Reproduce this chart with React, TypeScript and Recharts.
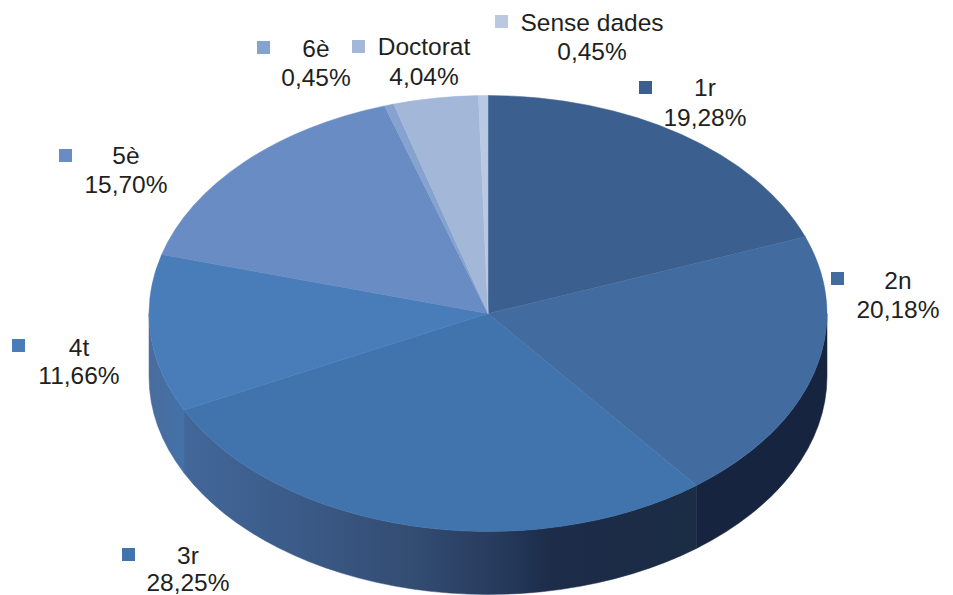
import { PieChart, Pie, Cell } from 'recharts'

const categories = ['1r', '2n', '3r', '4t', '5è', '6è', 'Doctorat', 'Sense dades']
const shares = [19.28, 20.18, 28.25, 11.66, 15.7, 0.45, 4.04, 0.45]

const sliceColors = ['#3b5f8e', '#426c9f', '#4173ad', '#497dba', '#688cc3', '#86a3cf', '#a3b7d9', '#bac9e2']
const wallFills = ['#16243f', '#16243f', 'url(#wall3r)', 'url(#wall4t)', '#16243f', '#16243f', '#16243f', '#16243f']

// label placement: marker left/top, text centre, first and second baseline
const labelSpots = [
  [639, 81, 705, 96, 126],
  [831, 272, 898, 289, 318],
  [122, 548, 188, 564, 591],
  [12, 339, 79, 356, 384],
  [59, 149, 126, 164, 193],
  [257, 41, 316, 57, 86],
  [352, 40, 424, 55, 85],
  [495, 15, 592, 31, 60],
]

const data = categories.map((name, i) => ({ name, value: shares[i] }))

const FLATTEN = 218 / 339
const DEPTH = 63
const RAD = Math.PI / 180

const pointAt = (cx: number, cy: number, r: number, a: number) => ({
  x: cx + r * Math.cos(a * RAD),
  y: cy - r * FLATTEN * Math.sin(a * RAD),
})

// top face: the pie sector squashed into an ellipse
function TopSlice(props: any) {
  const { cx, cy, outerRadius: r, startAngle, endAngle, fill } = props
  const a = pointAt(cx, cy, r, startAngle)
  const b = pointAt(cx, cy, r, endAngle)
  const large = Math.abs(startAngle - endAngle) > 180 ? 1 : 0
  const d = `M${cx},${cy}L${a.x},${a.y}A${r},${r * FLATTEN} 0 ${large} 1 ${b.x},${b.y}Z`
  return <path d={d} fill={fill} stroke={fill} strokeWidth={0.5} />
}

// side wall: only the part of the rim facing the viewer
function WallSlice(props: any) {
  const { cx, cy, outerRadius: r, startAngle, endAngle, fill } = props
  const hi = Math.min(startAngle, 0)
  const lo = Math.max(endAngle, -180)
  if (hi <= lo) return <g />
  const a = pointAt(cx, cy, r, hi)
  const b = pointAt(cx, cy, r, lo)
  const ry = r * FLATTEN
  const d = `M${a.x},${a.y}A${r},${ry} 0 0 1 ${b.x},${b.y}L${b.x},${b.y + DEPTH}A${r},${ry} 0 0 0 ${a.x},${a.y + DEPTH}Z`
  return <path d={d} fill={fill} stroke={fill} strokeWidth={0.5} />
}

function SliceLabel(props: any) {
  const { index } = props
  const [mx, my, tx, y1, y2] = labelSpots[index]
  const text = { fontFamily: '"Liberation Sans", Arial, sans-serif', fontSize: 24.5, fill: '#231f20', textAnchor: 'middle' } as const
  return (
    <g>
      <rect x={mx} y={my} width={13} height={13} fill={sliceColors[index]} />
      <text x={tx} y={y1} {...text}>{categories[index]}</text>
      <text x={tx} y={y2} {...text}>{shares[index].toFixed(2).replace('.', ',')}%</text>
    </g>
  )
}

export default function App() {
  return (
    <div style={{ position: 'absolute', left: 0, top: 0, width: 953, height: 595, background: '#fff' }}>
      <PieChart width={953} height={595} margin={{ top: 0, right: 0, bottom: 0, left: 0 }}>
        <defs>
          <linearGradient id="wall3r" gradientUnits="userSpaceOnUse" x1={184} y1={0} x2={696} y2={0}>
            <stop offset="0%" stopColor="#43679a" />
            <stop offset="15%" stopColor="#3d5f8e" />
            <stop offset="45%" stopColor="#334c72" />
            <stop offset="62%" stopColor="#263a5c" />
            <stop offset="72%" stopColor="#1c2c49" />
            <stop offset="100%" stopColor="#1b2c45" />
          </linearGradient>
          <linearGradient id="wall4t" gradientUnits="userSpaceOnUse" x1={150} y1={0} x2={186} y2={0}>
            <stop offset="0%" stopColor="#4a6c9e" />
            <stop offset="100%" stopColor="#4272a8" />
          </linearGradient>
        </defs>
        <Pie
          data={data}
          dataKey="value"
          cx={488} cy={313.5}
          outerRadius={339}
          startAngle={90} endAngle={-270}
          stroke="none"
          shape={WallSlice}
          isAnimationActive={false}
        >
          {data.map((_, i) => (
            <Cell key={i} fill={wallFills[i]} />
          ))}
        </Pie>
        <Pie
          data={data}
          dataKey="value"
          cx={488} cy={313.5}
          outerRadius={339}
          startAngle={90} endAngle={-270}
          stroke="none"
          shape={TopSlice}
          label={SliceLabel}
          labelLine={false}
          isAnimationActive={false}
        >
          {data.map((_, i) => (
            <Cell key={i} fill={sliceColors[i]} />
          ))}
        </Pie>
      </PieChart>
    </div>
  )
}
